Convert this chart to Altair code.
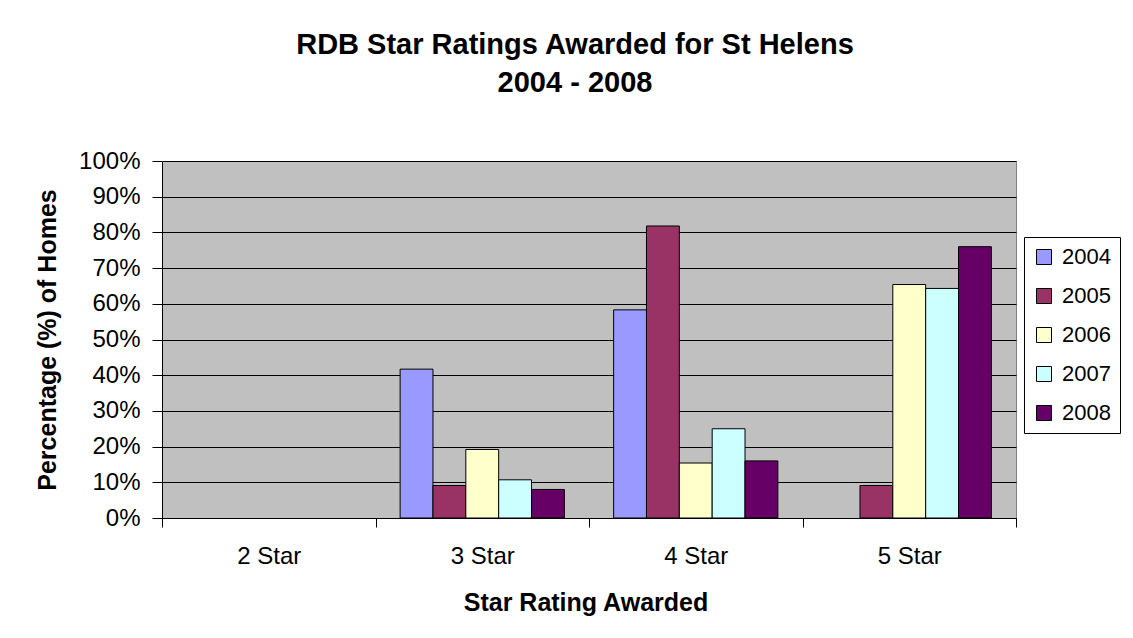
import altair as alt
import pandas as pd

categories = ["2 Star", "3 Star", "4 Star", "5 Star"]
years = ["2004", "2005", "2006", "2007", "2008"]
v2004 = [0.0, 0.417, 0.583, 0.0]
v2005 = [0.0, 0.091, 0.818, 0.091]
v2006 = [0.0, 0.192, 0.154, 0.654]
v2007 = [0.0, 0.107, 0.250, 0.643]
v2008 = [0.0, 0.080, 0.160, 0.760]
colors = ["#9999FF", "#993366", "#FFFFCC", "#CCFFFF", "#660066"]
y_ticks = [0.0, 0.1, 0.2, 0.3, 0.4, 0.5, 0.6, 0.7, 0.8, 0.9, 1.0]

series = [v2004, v2005, v2006, v2007, v2008]
rows = []
for yr, vals in zip(years, series):
    for cat, v in zip(categories, vals):
        rows.append({"rating": cat, "year": yr, "value": v})
df = pd.DataFrame(rows)

FONT = "Liberation Sans"

chart = alt.Chart(df).transform_filter("datum.value > 0").mark_bar(
    stroke="black", strokeWidth=1
).encode(
    x=alt.X(
        "rating:N",
        sort=categories,
        scale=alt.Scale(domain=categories, paddingInner=0, paddingOuter=0),
        axis=alt.Axis(
            title="Star Rating Awarded",
            labelAngle=0,
            tickBand="extent",
            ticks=True,
            tickSize=9,
            tickColor="black",
            domainColor="black",
            labelFontSize=24,
            labelPadding=17,
            labelColor="black",
            labelFont=FONT,
            titleFont=FONT,
            titleFontSize=25,
            titleFontWeight="bold",
            titleColor="black",
            titleX=423.5,
            titleY=84,
            titleBaseline="middle",
            grid=False,
        ),
    ),
    xOffset=alt.XOffset(
        "year:N", scale=alt.Scale(domain=years, paddingInner=0, paddingOuter=0.75)
    ),
    y=alt.Y(
        "value:Q",
        scale=alt.Scale(domain=[0, 1], nice=False),
        axis=alt.Axis(
            values=y_ticks,
            format=".0%",
            title="Percentage (%) of Homes",
            grid=True,
            gridColor="black",
            gridWidth=1,
            tickSize=10,
            tickColor="black",
            domainColor="black",
            labelPadding=12,
            labelFontSize=24,
            labelColor="black",
            labelFont=FONT,
            titleFont=FONT,
            titleFontSize=25,
            titleFontWeight="bold",
            titleColor="black",
            titleX=-115,
            titleY=178.5,
            titleAngle=270,
            titleBaseline="middle",
            titleAlign="center",
        ),
    ),
    color=alt.Color(
        "year:N",
        scale=alt.Scale(domain=years, range=colors),
        legend=alt.Legend(
            title=None,
            orient="none",
            legendX=862,
            legendY=76,
            padding=9,
            strokeColor="black",
            fillColor="white",
            symbolType="square",
            symbolSize=225,
            symbolStrokeColor="black",
            symbolStrokeWidth=1,
            labelFontSize=22,
            labelFont=FONT,
            labelColor="black",
            labelOffset=7,
            rowPadding=17,
        ),
    ),
).properties(
    width=854,
    height=357,
    autosize=alt.AutoSizeParams(type="none"),
    padding={"left": 154, "top": 153, "right": 108, "bottom": 100},
    title=alt.Title(
        ["RDB Star Ratings Awarded for St Helens", "2004 - 2008"],
        fontSize=29,
        font=FONT,
        fontWeight="bold",
        lineHeight=38,
        anchor="middle",
        frame="group",
        dx=-14,
        offset=51,
        color="black",
    ),
).configure_view(fill="#C0C0C0", stroke="#808080", strokeWidth=1)

chart.save("out.html", embed_options={"renderer": "svg", "actions": False})
